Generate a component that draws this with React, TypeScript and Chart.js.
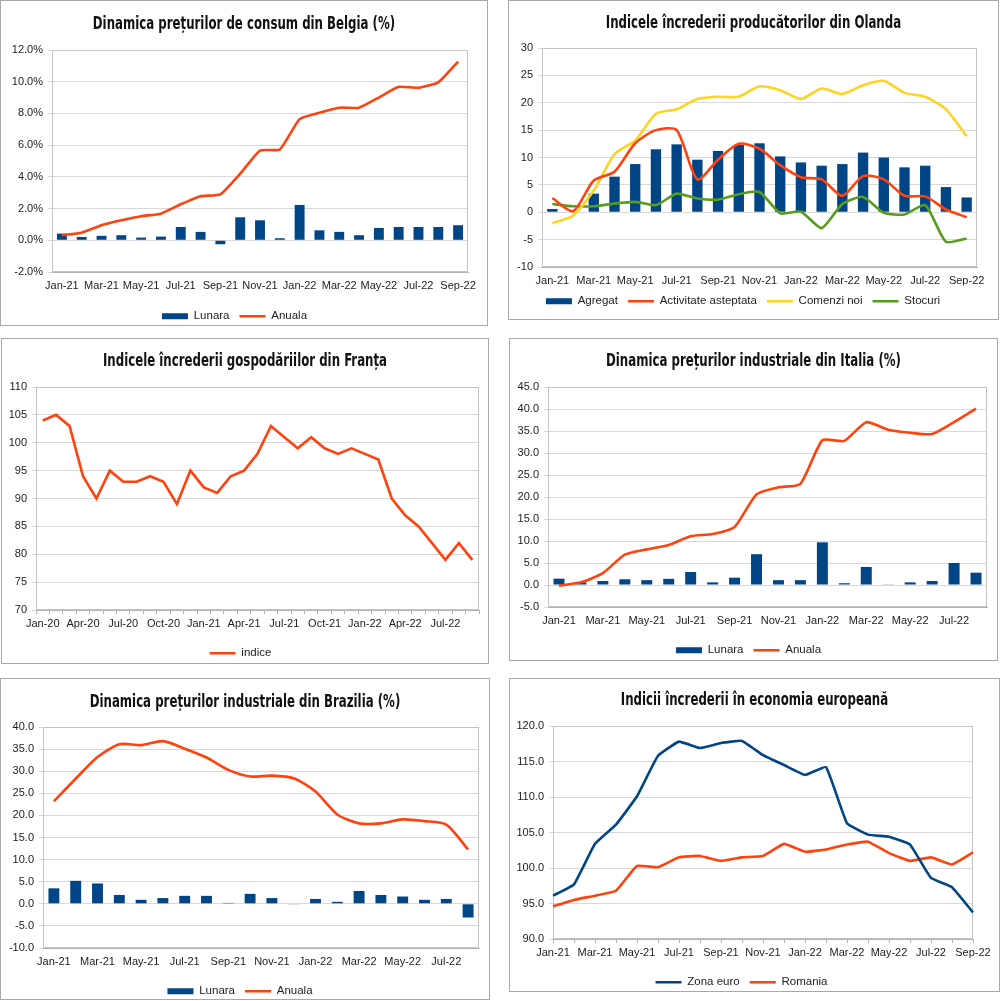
import { useEffect, useRef } from "react"
import { Chart, registerables } from "chart.js"

Chart.register(...registerables)

// ---- categories ----
const months21 = [
  "Jan-21", "Feb-21", "Mar-21", "Apr-21", "May-21", "Jun-21", "Jul-21", "Aug-21", "Sep-21", "Oct-21", "Nov-21", "Dec-21",
  "Jan-22", "Feb-22", "Mar-22", "Apr-22", "May-22", "Jun-22", "Jul-22", "Aug-22", "Sep-22",
]
const months20 = [
  "Jan-21", "Feb-21", "Mar-21", "Apr-21", "May-21", "Jun-21", "Jul-21", "Aug-21", "Sep-21", "Oct-21", "Nov-21", "Dec-21",
  "Jan-22", "Feb-22", "Mar-22", "Apr-22", "May-22", "Jun-22", "Jul-22", "Aug-22",
]
const monthsFr = [
  "Jan-20", "Feb-20", "Mar-20", "Apr-20", "May-20", "Jun-20", "Jul-20", "Aug-20", "Sep-20", "Oct-20", "Nov-20", "Dec-20",
  "Jan-21", "Feb-21", "Mar-21", "Apr-21", "May-21", "Jun-21", "Jul-21", "Aug-21", "Sep-21", "Oct-21", "Nov-21", "Dec-21",
  "Jan-22", "Feb-22", "Mar-22", "Apr-22", "May-22", "Jun-22", "Jul-22", "Aug-22", "Sep-22",
]

// ---- Belgia ----
const beLunara = [0.42, 0.21, 0.28, 0.32, 0.17, 0.23, 0.84, 0.53, -0.25, 1.45, 1.26, 0.13, 2.23, 0.63, 0.53, 0.32, 0.78, 0.84, 0.84, 0.84, 0.95]
const beAnuala = [0.32, 0.48, 0.95, 1.26, 1.52, 1.68, 2.27, 2.78, 2.9, 4.2, 5.66, 5.73, 7.64, 8.04, 8.36, 8.36, 9.0, 9.68, 9.62, 9.96, 11.27]

// ---- Olanda ----
const nlAgregat = [0.6, 0, 3.4, 6.5, 8.8, 11.5, 12.4, 9.6, 11.2, 12.3, 12.6, 10.2, 9.1, 8.5, 8.8, 10.9, 10.0, 8.2, 8.5, 4.6, 2.7]
const nlActivitate = [2.6, 0.2, 5.8, 7.4, 12.6, 15.0, 15.0, 6.0, 9.6, 12.5, 11.6, 8.6, 6.4, 6.0, 3.0, 6.6, 6.0, 3.0, 2.9, 0.5, -0.9]
const nlComenzi = [-2.0, -0.6, 4.0, 10.6, 13.1, 18.0, 18.8, 20.7, 21.1, 21.1, 23.0, 22.3, 20.7, 22.6, 21.6, 23.2, 24.0, 21.8, 21.1, 18.8, 13.9]
const nlStocuri = [1.5, 1.1, 1.1, 1.6, 1.9, 1.3, 3.4, 2.5, 2.3, 3.3, 3.7, -0.2, 0.1, -2.9, 1.5, 2.8, -0.1, -0.4, 1.3, -5.4, -4.8]

// ---- Franta ----
const frIndice = [104, 105, 103, 94, 90, 95, 93, 93, 94, 93, 89, 95, 92, 91, 94, 95, 98, 103, 101, 99, 101, 99, 98, 99, 98, 97, 90, 87, 85, 82, 79, 82, 79]

// ---- Italia ----
const itLunara = [1.44, 0.6, 0.9, 1.3, 1.1, 1.4, 2.95, 0.6, 1.66, 7.0, 1.1, 1.1, 9.7, 0.4, 4.1, 0.15, 0.6, 0.9, 5.0, 2.8]
const itAnuala = [-0.15, 0.6, 2.7, 6.9, 8.1, 9.1, 11.1, 11.6, 13.2, 20.6, 22.2, 23.0, 32.9, 32.75, 37.0, 35.3, 34.6, 34.3, 37.0, 40.1]

// ---- Brazilia ----
const brLunara = [3.5, 5.2, 4.6, 2.0, 0.9, 1.3, 1.8, 1.8, 0.2, 2.25, 1.3, -0.15, 1.1, 0.45, 2.9, 2.0, 1.65, 0.9, 1.1, -3.1]
const brAnuala = [23.2, 28.3, 33.2, 36.1, 35.9, 36.8, 35.1, 33.1, 30.3, 28.8, 29.0, 28.4, 25.4, 20.2, 18.2, 18.2, 19.1, 18.7, 17.9, 12.3]

// ---- Europa ----
const euZona = [96.1, 97.7, 103.4, 106.1, 110.1, 115.8, 117.8, 116.9, 117.6, 117.9, 115.9, 114.5, 113.1, 114.2, 106.3, 104.7, 104.4, 103.3, 98.6, 97.3, 93.75]
const euRomania = [94.6, 95.5, 96.1, 96.8, 100.3, 100.1, 101.5, 101.7, 101.0, 101.5, 101.7, 103.4, 102.3, 102.6, 103.3, 103.7, 102.1, 101.0, 101.5, 100.5, 102.2]

const BLUE = "#004586"
const RED = "#ff420e"
const YELLOW = "#ffd320"
const GREEN = "#579d1c"

const FONT = "'Liberation Sans', Arial, sans-serif"
const LEG_FS = 11.5
const LEG_PAD = 10

// thin frame around the plot area
const framePlugin = {
  id: "frame",
  beforeDatasetsDraw(chart: any) {
    const { ctx, chartArea: a } = chart
    ctx.save()
    ctx.strokeStyle = "#c4c4c4"
    ctx.lineWidth = 1
    ctx.strokeRect(Math.round(a.left) + 0.5, Math.round(a.top) + 0.5, Math.round(a.right - a.left) - 1, Math.round(a.bottom - a.top) - 1)
    ctx.restore()
  },
}

function lineSet(label: string, data: number[], color: string, tension = 0) {
  return {
    type: "line",
    label,
    data,
    borderColor: color,
    backgroundColor: color,
    borderWidth: 2.6,
    pointRadius: 0,
    tension,
    order: 1,
  }
}

function barSet(label: string, data: number[]) {
  return {
    type: "bar",
    label,
    data,
    backgroundColor: BLUE,
    barPercentage: 0.5,
    categoryPercentage: 1,
    order: 2,
  }
}

function makeOptions(
  min: number,
  max: number,
  step: number,
  fmt: (v: number) => string,
  every: number,
  offset: boolean,
  xTicks: boolean
) {
  return {
    animation: false,
    responsive: true,
    maintainAspectRatio: false,
    scales: {
      x: {
        offset,
        grid: { offset, drawOnChartArea: false, drawTicks: xTicks, tickLength: 4, color: "#b3b3b3" },
        border: { color: "#b3b3b3" },
        ticks: {
          autoSkip: false,
          maxRotation: 0,
          padding: xTicks ? 3 : 7,
          color: "#222",
          font: { family: FONT, size: 11 },
          callback: function (this: any, val: any, index: number) {
            return index % every === 0 ? this.getLabelForValue(val) : ""
          },
        },
      },
      y: {
        min,
        max,
        grid: { color: "#d9d9d9", tickLength: 4 },
        border: { color: "#b3b3b3" },
        ticks: {
          stepSize: step,
          padding: 5,
          color: "#222",
          font: { family: FONT, size: 11 },
          callback: (v: any) => fmt(Number(v)),
        },
      },
    },
    plugins: {
      tooltip: { enabled: false },
      legend: {
        position: "bottom",
        labels: {
          usePointStyle: true,
          pointStyleWidth: 26,
          boxHeight: 6,
          padding: LEG_PAD,
          color: "#222",
          font: { family: FONT, size: LEG_FS },
          sort: (a: any, b: any) => a.datasetIndex - b.datasetIndex,
          generateLabels: (chart: any) =>
            Chart.defaults.plugins.legend.labels.generateLabels(chart).map((item: any) => {
              const ds = chart.data.datasets[item.datasetIndex]
              return ds.type === "bar"
                ? { ...item, pointStyle: "rect", lineWidth: 0 }
                : { ...item, pointStyle: "line", lineWidth: 2.6, strokeStyle: ds.borderColor }
            }),
        },
      },
    },
  }
}

const pct = (v: number) => v.toFixed(1) + "%"
const one = (v: number) => v.toFixed(1)
const int = (v: number) => String(v)

type Frame = { box: number[]; plot: number[]; legendY: number; titleY: number }

function Panel({ frame, title, config }: { frame: Frame; title: string; config: () => any }) {
  const canvasRef = useRef<HTMLCanvasElement>(null)
  const [bl, bt, bw, bh] = frame.box
  const [pl, pt, pr, pb] = frame.plot
  const ox = bl + 1
  const oy = bt + 1
  const innerW = bw - 2
  const legendC = frame.legendY - oy
  const canvasH = Math.round(legendC + LEG_FS / 2 + 10)

  useEffect(() => {
    if (!canvasRef.current) return
    const cfg = config()
    const legendTop = canvasH - (LEG_FS + LEG_PAD + 10)
    cfg.options.layout = { padding: { top: pt - oy, right: innerW - (pr - ox), left: 0, bottom: 0 } }
    cfg.options.scales.y.afterFit = (s: any) => {
      s.width = pl - ox
    }
    cfg.options.scales.x.afterFit = (s: any) => {
      s.height = legendTop - (pb - oy)
    }
    cfg.plugins = [framePlugin]
    const chart = new Chart(canvasRef.current, cfg)
    return () => chart.destroy()
  }, [])

  return (
    <div
      style={{
        position: "absolute",
        left: bl,
        top: bt,
        width: bw,
        height: bh,
        boxSizing: "border-box",
        border: "1px solid #a8a8a8",
        overflow: "hidden",
        background: "#fff",
      }}
    >
      <div style={{ position: "absolute", left: 0, top: 0, width: innerW, height: canvasH }}>
        <canvas ref={canvasRef} />
      </div>
      <div
        style={{
          position: "absolute",
          left: 0,
          top: frame.titleY - oy - 10,
          width: innerW,
          height: 20,
          lineHeight: "20px",
          textAlign: "center",
          whiteSpace: "nowrap",
          fontFamily: "'DejaVu Sans Condensed', 'DejaVu Sans', sans-serif",
          fontStretch: "condensed",
          fontWeight: "bold",
          fontSize: 17,
          color: "#111",
          transform: "scaleX(0.77)",
          transformOrigin: "center",
        }}
      >
        {title}
      </div>
    </div>
  )
}

export default function App() {
  return (
    <div>
      <Panel
        frame={{ box: [0, 0, 488, 326], plot: [52, 50, 468, 272], legendY: 316, titleY: 23 }}
        title="Dinamica prețurilor de consum din Belgia (%)"
        config={() => ({
          type: "bar",
          data: { labels: months21, datasets: [barSet("Lunara", beLunara), lineSet("Anuala", beAnuala, RED, 0.15)] },
          options: makeOptions(-2, 12, 2, pct, 2, true, false),
        })}
      />
      <Panel
        frame={{ box: [508, 0, 491, 320], plot: [542, 48, 977, 267], legendY: 301, titleY: 22 }}
        title="Indicele încrederii producătorilor din Olanda"
        config={() => ({
          type: "bar",
          data: {
            labels: months21,
            datasets: [
              barSet("Agregat", nlAgregat),
              lineSet("Activitate asteptata", nlActivitate, RED, 0.25),
              lineSet("Comenzi noi", nlComenzi, YELLOW, 0.25),
              lineSet("Stocuri", nlStocuri, GREEN, 0.2),
            ],
          },
          options: makeOptions(-10, 30, 5, int, 2, true, false),
        })}
      />
      <Panel
        frame={{ box: [1, 338, 488, 326], plot: [36, 387, 479, 610], legendY: 653, titleY: 360 }}
        title="Indicele încrederii gospodăriilor din Franța"
        config={() => ({
          type: "line",
          data: { labels: monthsFr, datasets: [lineSet("indice", frIndice, RED, 0)] },
          options: makeOptions(70, 110, 5, int, 3, true, true),
        })}
      />
      <Panel
        frame={{ box: [509, 338, 489, 323], plot: [548, 387, 987, 607], legendY: 650, titleY: 360 }}
        title="Dinamica prețurilor industriale din Italia (%)"
        config={() => ({
          type: "bar",
          data: { labels: months20, datasets: [barSet("Lunara", itLunara), lineSet("Anuala", itAnuala, RED, 0.2)] },
          options: makeOptions(-5, 45, 5, one, 2, true, false),
        })}
      />
      <Panel
        frame={{ box: [0, 678, 490, 322], plot: [43, 727, 479, 948], legendY: 991, titleY: 701 }}
        title="Dinamica prețurilor industriale din Brazilia (%)"
        config={() => ({
          type: "bar",
          data: { labels: months20, datasets: [barSet("Lunara", brLunara), lineSet("Anuala", brAnuala, RED, 0.25)] },
          options: makeOptions(-10, 40, 5, one, 2, true, false),
        })}
      />
      <Panel
        frame={{ box: [509, 678, 491, 314], plot: [553, 726, 973, 939], legendY: 982, titleY: 699 }}
        title="Indicii încrederii în economia europeană"
        config={() => ({
          type: "line",
          data: {
            labels: months21,
            datasets: [lineSet("Zona euro", euZona, BLUE, 0.1), lineSet("Romania", euRomania, RED, 0.1)],
          },
          options: makeOptions(90, 120, 5, one, 2, false, true),
        })}
      />
    </div>
  )
}
